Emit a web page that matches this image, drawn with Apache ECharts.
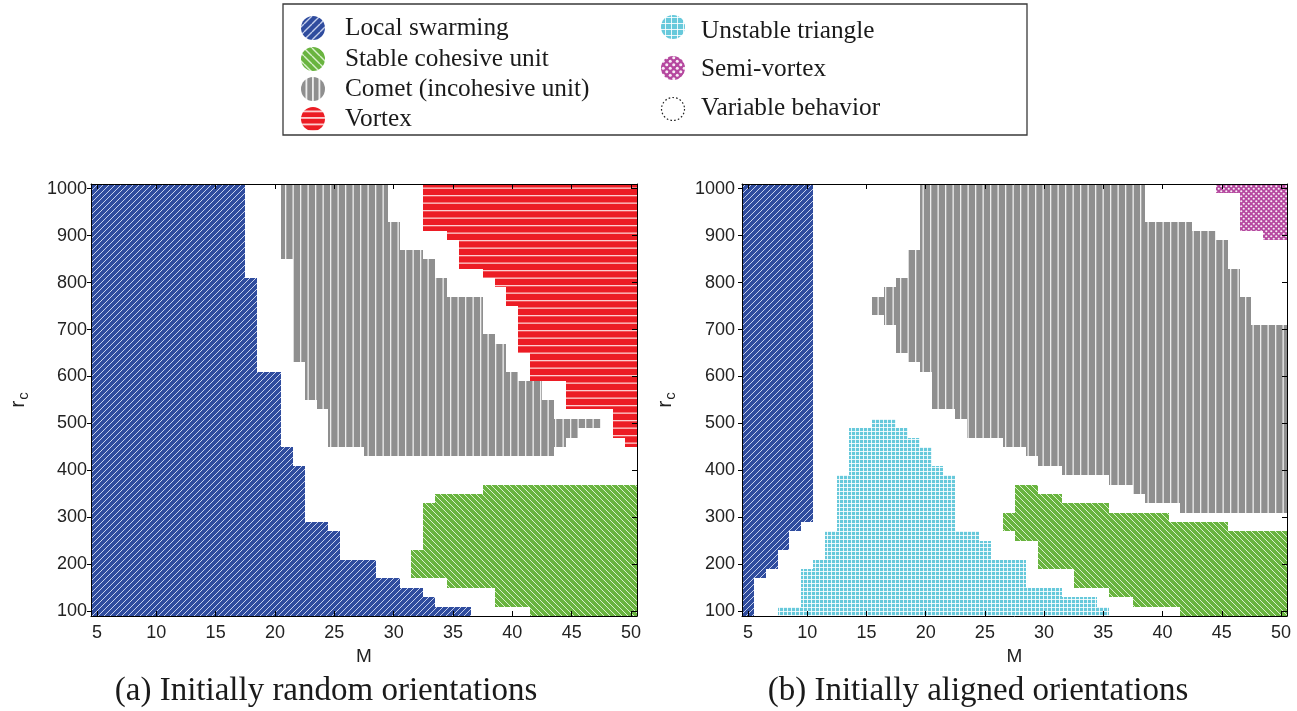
<!DOCTYPE html>
<html>
<head>
<meta charset="utf-8">
<script src="https://cdn.jsdelivr.net/npm/echarts@6/dist/echarts.min.js"></script>
<style>
html,body{margin:0;padding:0;background:#fff;}
#chart{width:1297px;height:711px;}
</style>
</head>
<body>
<div id="chart"></div>
<script>
// ---------------- data ----------------
const M_TICKS = [5, 10, 15, 20, 25, 30, 35, 40, 45, 50];
const RC_TICKS = [100, 200, 300, 400, 500, 600, 700, 800, 900, 1000];

// each run: [M from, M to, r_c lowest cell, r_c highest cell]  (grid: M step 1, r_c step 20)
// (a) Initially random orientations
const localSwarmingA = [
  [5, 17, 100, 1000], [18, 18, 100, 800], [19, 20, 100, 600], [21, 21, 100, 440],
  [22, 22, 100, 400], [23, 24, 100, 280], [25, 25, 100, 260], [26, 28, 100, 200],
  [29, 30, 100, 160], [31, 32, 100, 140], [33, 33, 100, 120], [34, 36, 100, 100]
];
const cometA = [
  [21, 21, 860, 1000], [22, 22, 640, 1000], [23, 23, 560, 1000], [24, 24, 540, 1000],
  [25, 27, 460, 1000], [28, 29, 440, 1000], [30, 30, 440, 920], [31, 32, 440, 860],
  [33, 33, 440, 840], [34, 34, 440, 800], [35, 37, 440, 760], [38, 38, 440, 680],
  [39, 39, 440, 660], [40, 40, 440, 600], [41, 42, 440, 580], [43, 43, 440, 540],
  [44, 44, 460, 500], [45, 45, 480, 500], [46, 47, 500, 500]
];
const vortexA = [
  [33, 34, 920, 1000], [35, 35, 900, 1000], [36, 37, 840, 1000], [38, 38, 820, 1000],
  [39, 39, 800, 1000], [40, 40, 760, 1000], [41, 41, 660, 1000], [42, 44, 600, 1000],
  [45, 48, 540, 1000], [49, 49, 480, 1000], [50, 50, 460, 1000]
];
const cohesiveA = [
  [32, 32, 180, 220], [33, 33, 180, 320], [34, 34, 180, 340], [35, 37, 160, 340],
  [38, 38, 160, 360], [39, 41, 120, 360], [42, 50, 100, 360]
];

// (b) Initially aligned orientations
const localSwarmingB = [
  [5, 5, 100, 1000], [6, 6, 180, 1000], [7, 7, 200, 1000], [8, 8, 240, 1000],
  [9, 9, 280, 1000], [10, 10, 300, 1000]
];
const cometB = [
  [16, 16, 740, 760], [17, 17, 720, 780], [18, 18, 660, 800], [19, 19, 640, 860],
  [20, 20, 620, 1000], [21, 22, 540, 1000], [23, 23, 520, 1000], [24, 26, 480, 1000],
  [27, 28, 460, 1000], [29, 29, 440, 1000], [30, 31, 420, 1000], [32, 35, 400, 1000],
  [36, 37, 380, 1000], [38, 38, 360, 1000], [39, 41, 340, 920], [42, 42, 320, 920],
  [43, 44, 320, 900], [45, 45, 320, 880], [46, 46, 320, 820], [47, 47, 320, 760],
  [48, 50, 320, 700]
];
const triangleB = [
  [8, 9, 100, 100], [10, 10, 100, 180], [11, 11, 100, 200], [12, 12, 100, 260],
  [13, 13, 100, 380], [14, 15, 100, 480], [16, 17, 100, 500], [18, 18, 100, 480],
  [19, 19, 100, 460], [20, 20, 100, 440], [21, 21, 100, 400], [22, 22, 100, 380],
  [23, 24, 100, 260], [25, 25, 100, 240], [26, 28, 100, 200], [29, 31, 100, 140],
  [32, 34, 100, 120], [35, 35, 100, 100]
];
const cohesiveB = [
  [27, 27, 280, 300], [28, 29, 260, 360], [30, 31, 200, 340], [32, 32, 200, 320],
  [33, 35, 160, 320], [36, 37, 140, 300], [38, 40, 120, 300], [41, 41, 120, 280],
  [42, 45, 100, 280], [46, 50, 100, 260]
];
const semiVortexB = [
  [45, 46, 1000, 1000], [47, 48, 920, 1000], [49, 50, 900, 1000]
];

const LEGEND_LEFT = ['Local swarming', 'Stable cohesive unit', 'Comet (incohesive unit)', 'Vortex'];
const LEGEND_RIGHT = ['Unstable triangle', 'Semi-vortex', 'Variable behavior'];
const CAPTIONS = ['(a) Initially random orientations', '(b) Initially aligned orientations'];

// ---------------- patterns ----------------
function tile(w, h, bg, fn) {
  const c = document.createElement('canvas');
  c.width = Math.round(w); c.height = Math.round(h);
  const g = c.getContext('2d');
  g.fillStyle = bg; g.fillRect(0, 0, c.width, c.height);
  fn(g, c.width, c.height);
  return { image: c, repeat: 'repeat' };
}
function diag(dir, lw, col) {
  return function (g, s) {
    g.strokeStyle = col; g.lineWidth = lw; g.beginPath();
    for (let k = -1; k <= 1; k++) {
      if (dir === '/') { g.moveTo(k * s, s); g.lineTo(k * s + s, 0); }
      else { g.moveTo(k * s, 0); g.lineTo(k * s + s, s); }
    }
    g.stroke();
  };
}
const C_BLUE = '#2f4c9e', C_GREEN = '#69b43f', C_GREY = '#8f8f8f', C_RED = '#ec1c24',
      C_CYAN = '#67c9db', C_MAG = '#b5489f';

function makePatterns(s, stripePeriod) {
  const per = stripePeriod;
  return {
    swarm: tile(6 * s, 6 * s, C_BLUE, diag('/', 1 * s, 'rgba(235,240,255,0.8)')),
    cohesive: tile(6 * s, 6 * s, C_GREEN, diag('\\', 1 * s, 'rgba(245,255,240,0.8)')),
    comet: tile(per, 4, C_GREY, function (g, w, h) {
      g.fillStyle = 'rgba(255,255,255,0.85)';
      g.fillRect(0, 0, 1.3 * s, h); g.fillRect(w / 2, 0, 1.3 * s, h);
    }),
    vortex: tile(4, per, C_RED, function (g, w, h) {
      g.fillStyle = 'rgba(255,225,225,0.9)';
      g.fillRect(0, 0, w, 1.3 * s); g.fillRect(0, h / 2, w, 1.3 * s);
    }),
    triangle: tile(4 * s, 4 * s, C_CYAN, function (g, w, h) {
      g.fillStyle = 'rgba(255,255,255,0.85)';
      g.fillRect(w - 1, 0, 1, h); g.fillRect(0, h - 1, w, 1);
    }),
    semi: tile(5 * s, 5 * s, C_MAG, function (g, w, h) {
      g.fillStyle = 'rgba(255,255,255,0.9)';
      g.beginPath(); g.arc(w * 0.25, h * 0.25, 1.1 * s, 0, Math.PI * 2); g.fill();
      g.beginPath(); g.arc(w * 0.75, h * 0.75, 1.1 * s, 0, Math.PI * 2); g.fill();
    })
  };
}
const PAT = makePatterns(1, 15);
const PAT_L = makePatterns(1.4, 13);

// ---------------- chart ----------------
const SANS = '"Liberation Sans", Arial, sans-serif';
const SERIF = '"Liberation Serif", "Times New Roman", serif';
const GRIDS = [
  { left: 91, top: 184, width: 546, height: 432 },
  { left: 742, top: 184, width: 545, height: 432 }
];
function plain(v) { return String(v); }

function xAx(gi, pos) {
  return {
    type: 'value', gridIndex: gi, position: pos, min: 4.5, max: 50.5, z: 10,
    axisLine: { show: true, onZero: false, lineStyle: { color: '#000', width: 1 } },
    axisTick: { show: true, inside: true, length: 5, customValues: M_TICKS, lineStyle: { color: '#000' } },
    axisLabel: { show: pos === 'bottom', customValues: M_TICKS, formatter: plain, margin: 8, fontSize: 18, fontFamily: SANS, color: '#222' },
    splitLine: { show: false },
    name: pos === 'bottom' ? 'M' : '', nameLocation: 'middle', nameGap: 31,
    nameTextStyle: { fontSize: 19, fontFamily: SANS, color: '#222' }
  };
}
function yAx(gi, pos, margin, gap) {
  const isLeft = pos === 'left';
  return {
    type: 'value', gridIndex: gi, position: pos, min: 90, max: 1010, z: 10,
    axisLine: { show: true, onZero: false, lineStyle: { color: '#000', width: 1 } },
    axisTick: { show: true, inside: !isLeft, length: isLeft ? 4 : 5, customValues: RC_TICKS, lineStyle: { color: '#000' } },
    axisLabel: { show: isLeft, customValues: RC_TICKS, formatter: plain, margin: margin, fontSize: 18, fontFamily: SANS, color: '#222' },
    splitLine: { show: false },
    name: isLeft ? '{r|r}{c|c}' : '', nameLocation: 'middle', nameGap: gap,
    nameTextStyle: {
      fontFamily: SANS, color: '#222',
      rich: { r: { fontSize: 21, fontFamily: SANS, color: '#222' },
              c: { fontSize: 15, fontFamily: SANS, color: '#222', padding: [10, 0, 0, 1] } }
    }
  };
}

function phaseSeries(runs, pattern, gi) {
  return {
    type: 'custom', xAxisIndex: gi * 2, yAxisIndex: gi * 2, z: 2, silent: true,
    data: runs,
    encode: { x: [0, 1], y: [2, 3] },
    renderItem: function (params, api) {
      const m1 = api.value(0), m2 = api.value(1), lo = api.value(2), hi = api.value(3);
      const step = 20;
      const p1 = api.coord([m1 - 0.5, hi + step / 2]);
      const p2 = api.coord([m2 + 0.5, lo - step / 2]);
      const x1 = Math.round(p1[0]), y1 = Math.round(p1[1]);
      const x2 = Math.round(p2[0]), y2 = Math.round(p2[1]);
      return { type: 'rect', shape: { x: x1, y: y1, width: x2 - x1, height: y2 - y1 },
               style: { fill: pattern, stroke: null } };
    }
  };
}

// legend graphics
const legendEls = [
  { type: 'rect', shape: { x: 283, y: 4, width: 744, height: 131 },
    style: { fill: '#fff', stroke: '#3a3a3a', lineWidth: 1.3 }, z: 1 }
];
const leftPats = [PAT_L.swarm, PAT_L.cohesive, PAT_L.comet, PAT_L.vortex];
const leftIconY = [28, 59, 89, 119];
const leftTextY = [28, 59, 89, 119];
LEGEND_LEFT.forEach(function (t, i) {
  legendEls.push({ type: 'circle', shape: { cx: 313, cy: leftIconY[i], r: 12 }, style: { fill: leftPats[i] }, z: 2 });
  legendEls.push({ type: 'text', x: 345, y: leftTextY[i], z: 2,
    style: { text: t, fontSize: 25.3, fontFamily: SERIF, fill: '#1a1a1a', align: 'left', verticalAlign: 'middle' } });
});
const rightIconY = [27, 68, 109];
const rightTextY = [31, 69, 108];
LEGEND_RIGHT.forEach(function (t, i) {
  if (i < 2) {
    legendEls.push({ type: 'circle', shape: { cx: 673, cy: rightIconY[i], r: 12 },
      style: { fill: i === 0 ? PAT_L.triangle : PAT_L.semi }, z: 2 });
  } else {
    legendEls.push({ type: 'circle', shape: { cx: 673, cy: rightIconY[i], r: 11.5 },
      style: { fill: 'none', stroke: '#222', lineWidth: 1.2, lineDash: [1.6, 2.2] }, z: 2 });
  }
  legendEls.push({ type: 'text', x: 701, y: rightTextY[i], z: 2,
    style: { text: t, fontSize: 25.3, fontFamily: SERIF, fill: '#1a1a1a', align: 'left', verticalAlign: 'middle' } });
});
const captionEls = [
  { type: 'text', x: 326, y: 691, style: { text: CAPTIONS[0], fontSize: 33, fontFamily: SERIF, fill: '#1a1a1a', align: 'center', verticalAlign: 'middle' } },
  { type: 'text', x: 978, y: 691, style: { text: CAPTIONS[1], fontSize: 33, fontFamily: SERIF, fill: '#1a1a1a', align: 'center', verticalAlign: 'middle' } }
];

const option = {
  animation: false,
  backgroundColor: '#fff',
  grid: GRIDS.map(function (g) { return Object.assign({ containLabel: false }, g); }),
  xAxis: [xAx(0, 'bottom'), xAx(0, 'top'), xAx(1, 'bottom'), xAx(1, 'top')],
  yAxis: [yAx(0, 'left', 4, 60), yAx(0, 'right', 4, 0), yAx(1, 'left', 7, 64), yAx(1, 'right', 4, 0)],
  series: [
    phaseSeries(localSwarmingA, PAT.swarm, 0),
    phaseSeries(cometA, PAT.comet, 0),
    phaseSeries(vortexA, PAT.vortex, 0),
    phaseSeries(cohesiveA, PAT.cohesive, 0),
    phaseSeries(localSwarmingB, PAT.swarm, 1),
    phaseSeries(cometB, PAT.comet, 1),
    phaseSeries(triangleB, PAT.triangle, 1),
    phaseSeries(cohesiveB, PAT.cohesive, 1),
    phaseSeries(semiVortexB, PAT.semi, 1)
  ],
  graphic: { elements: legendEls.concat(captionEls) }
};

const chart = echarts.init(document.getElementById('chart'));
chart.setOption(option);
</script>
</body>
</html>
